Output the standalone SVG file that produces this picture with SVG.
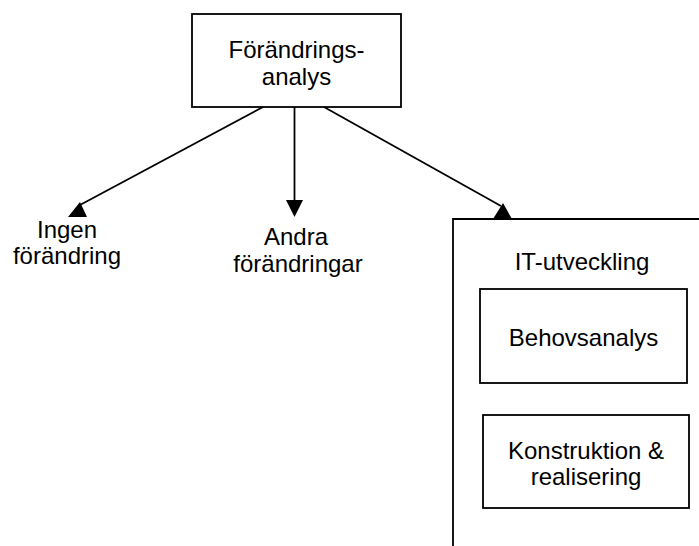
<svg xmlns="http://www.w3.org/2000/svg" width="699" height="546" viewBox="0 0 699 546">
  <style>
    .box { fill: #ffffff; stroke: #000000; stroke-width: 1.8; }
    .edge { fill: none; stroke: #000000; stroke-width: 1.8; }
    .head { fill: #000000; stroke: none; }
    text { font-family: "Liberation Sans", Arial, sans-serif; font-size: 24px; fill: #000000; text-anchor: middle; }
  </style>
  <rect width="699" height="546" fill="#ffffff"/>

  <!-- connectors from the analysis box -->
  <g id="connectors">
    <line class="edge" x1="263" y1="107" x2="80" y2="205"/>
    <polygon class="head" points="68,217 80,202 87,217"/>
    <line class="edge" x1="294.5" y1="107" x2="294.5" y2="201"/>
    <polygon class="head" points="286,200 303,200 294.5,217"/>
    <line class="edge" x1="324" y1="107" x2="501" y2="206"/>
    <polygon class="head" points="493,219 503,203 512,219"/>
  </g>

  <g id="forandringsanalys">
    <rect class="box" x="192" y="14" width="209" height="93"/>
    <text x="296.5" y="58">Förändrings-</text>
    <text x="296.5" y="85">analys</text>
  </g>

  <g id="ingen-forandring">
    <text x="67" y="238">Ingen</text>
    <text x="67" y="264">förändring</text>
  </g>

  <g id="andra-forandringar">
    <text x="296" y="245">Andra</text>
    <text x="298" y="272">förändringar</text>
  </g>

  <g id="it-utveckling">
    <path class="edge" d="M453,546 V219 H700"/>
    <text x="582" y="270">IT-utveckling</text>
  </g>

  <g id="behovsanalys">
    <rect class="box" x="480" y="289" width="207" height="94"/>
    <text x="583.5" y="346">Behovsanalys</text>
  </g>

  <g id="konstruktion">
    <rect class="box" x="483" y="415" width="206" height="93"/>
    <text x="586" y="459">Konstruktion &amp;</text>
    <text x="586" y="485">realisering</text>
  </g>
</svg>
